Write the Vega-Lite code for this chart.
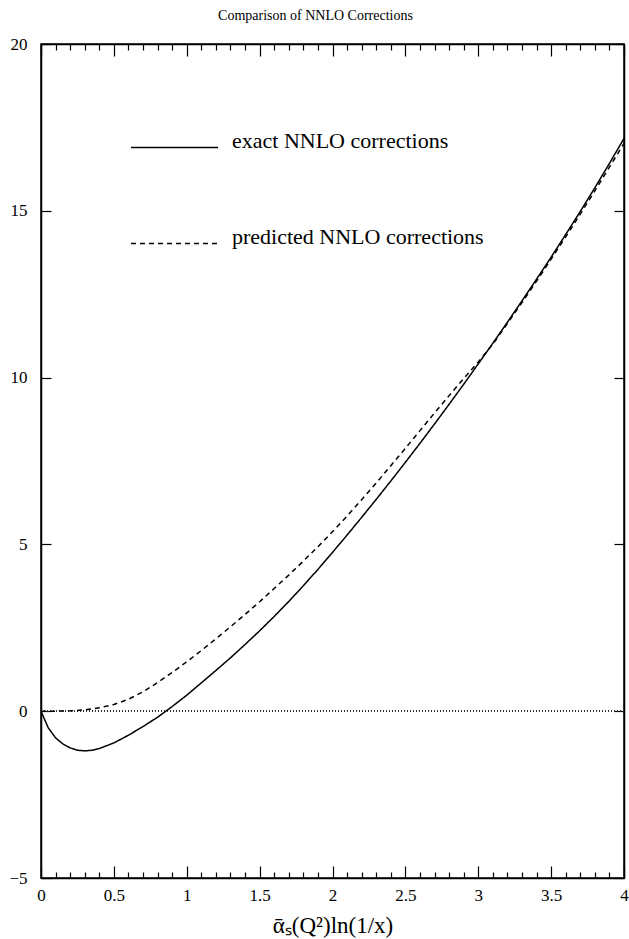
{
  "$schema": "https://vega.github.io/schema/vega-lite/v6.json",
  "width": 583,
  "height": 834,
  "autosize": {"type": "none"},
  "padding": {"left": 41, "top": 44, "right": 5, "bottom": 61},
  "background": "white",
  "config": {
    "view": {"stroke": "black", "strokeWidth": 1.5},
    "font": "Liberation Serif",
    "axis": {"grid": false, "domainColor": "black", "domainWidth": 1.5, "tickColor": "black", "tickWidth": 1.2, "labelFont": "Liberation Serif", "labelColor": "black", "titleFont": "Liberation Serif", "titleColor": "black", "titleFontWeight": "normal"}
  },
  "title": {"text": "Comparison of NNLO Corrections", "font": "Liberation Serif", "fontSize": 14, "fontWeight": "normal", "color": "black", "anchor": "middle", "dx": -17, "offset": 12},
  "datasets": {
    "curves": [
      {"x": 0, "y": 0, "series": "exact NNLO corrections"},
      {"x": 0.05, "y": -0.5, "series": "exact NNLO corrections"},
      {"x": 0.1, "y": -0.8, "series": "exact NNLO corrections"},
      {"x": 0.15, "y": -0.98, "series": "exact NNLO corrections"},
      {"x": 0.2, "y": -1.1, "series": "exact NNLO corrections"},
      {"x": 0.25, "y": -1.17, "series": "exact NNLO corrections"},
      {"x": 0.3, "y": -1.19, "series": "exact NNLO corrections"},
      {"x": 0.35, "y": -1.17, "series": "exact NNLO corrections"},
      {"x": 0.4, "y": -1.12, "series": "exact NNLO corrections"},
      {"x": 0.5, "y": -0.95, "series": "exact NNLO corrections"},
      {"x": 0.6, "y": -0.72, "series": "exact NNLO corrections"},
      {"x": 0.7, "y": -0.46, "series": "exact NNLO corrections"},
      {"x": 0.8, "y": -0.18, "series": "exact NNLO corrections"},
      {"x": 0.9, "y": 0.14, "series": "exact NNLO corrections"},
      {"x": 1.0, "y": 0.48, "series": "exact NNLO corrections"},
      {"x": 1.1, "y": 0.85, "series": "exact NNLO corrections"},
      {"x": 1.2, "y": 1.22, "series": "exact NNLO corrections"},
      {"x": 1.3, "y": 1.6, "series": "exact NNLO corrections"},
      {"x": 1.4, "y": 2.0, "series": "exact NNLO corrections"},
      {"x": 1.5, "y": 2.41, "series": "exact NNLO corrections"},
      {"x": 1.6, "y": 2.84, "series": "exact NNLO corrections"},
      {"x": 1.7, "y": 3.29, "series": "exact NNLO corrections"},
      {"x": 1.8, "y": 3.76, "series": "exact NNLO corrections"},
      {"x": 1.9, "y": 4.25, "series": "exact NNLO corrections"},
      {"x": 2.0, "y": 4.76, "series": "exact NNLO corrections"},
      {"x": 2.1, "y": 5.28, "series": "exact NNLO corrections"},
      {"x": 2.2, "y": 5.81, "series": "exact NNLO corrections"},
      {"x": 2.3, "y": 6.35, "series": "exact NNLO corrections"},
      {"x": 2.4, "y": 6.9, "series": "exact NNLO corrections"},
      {"x": 2.5, "y": 7.46, "series": "exact NNLO corrections"},
      {"x": 2.6, "y": 8.03, "series": "exact NNLO corrections"},
      {"x": 2.7, "y": 8.61, "series": "exact NNLO corrections"},
      {"x": 2.8, "y": 9.2, "series": "exact NNLO corrections"},
      {"x": 2.9, "y": 9.8, "series": "exact NNLO corrections"},
      {"x": 3.0, "y": 10.41, "series": "exact NNLO corrections"},
      {"x": 3.1, "y": 11.03, "series": "exact NNLO corrections"},
      {"x": 3.2, "y": 11.66, "series": "exact NNLO corrections"},
      {"x": 3.3, "y": 12.3, "series": "exact NNLO corrections"},
      {"x": 3.4, "y": 12.95, "series": "exact NNLO corrections"},
      {"x": 3.5, "y": 13.61, "series": "exact NNLO corrections"},
      {"x": 3.6, "y": 14.29, "series": "exact NNLO corrections"},
      {"x": 3.7, "y": 14.98, "series": "exact NNLO corrections"},
      {"x": 3.8, "y": 15.69, "series": "exact NNLO corrections"},
      {"x": 3.9, "y": 16.42, "series": "exact NNLO corrections"},
      {"x": 4.0, "y": 17.17, "series": "exact NNLO corrections"},
      {"x": 0, "y": 0, "series": "predicted NNLO corrections"},
      {"x": 0.1, "y": 0, "series": "predicted NNLO corrections"},
      {"x": 0.2, "y": 0.01, "series": "predicted NNLO corrections"},
      {"x": 0.3, "y": 0.04, "series": "predicted NNLO corrections"},
      {"x": 0.4, "y": 0.1, "series": "predicted NNLO corrections"},
      {"x": 0.5, "y": 0.2, "series": "predicted NNLO corrections"},
      {"x": 0.6, "y": 0.36, "series": "predicted NNLO corrections"},
      {"x": 0.7, "y": 0.58, "series": "predicted NNLO corrections"},
      {"x": 0.8, "y": 0.86, "series": "predicted NNLO corrections"},
      {"x": 0.9, "y": 1.16, "series": "predicted NNLO corrections"},
      {"x": 1.0, "y": 1.48, "series": "predicted NNLO corrections"},
      {"x": 1.1, "y": 1.82, "series": "predicted NNLO corrections"},
      {"x": 1.2, "y": 2.17, "series": "predicted NNLO corrections"},
      {"x": 1.3, "y": 2.53, "series": "predicted NNLO corrections"},
      {"x": 1.4, "y": 2.9, "series": "predicted NNLO corrections"},
      {"x": 1.5, "y": 3.28, "series": "predicted NNLO corrections"},
      {"x": 1.6, "y": 3.68, "series": "predicted NNLO corrections"},
      {"x": 1.7, "y": 4.08, "series": "predicted NNLO corrections"},
      {"x": 1.8, "y": 4.5, "series": "predicted NNLO corrections"},
      {"x": 1.9, "y": 4.93, "series": "predicted NNLO corrections"},
      {"x": 2.0, "y": 5.38, "series": "predicted NNLO corrections"},
      {"x": 2.1, "y": 5.85, "series": "predicted NNLO corrections"},
      {"x": 2.2, "y": 6.34, "series": "predicted NNLO corrections"},
      {"x": 2.3, "y": 6.84, "series": "predicted NNLO corrections"},
      {"x": 2.4, "y": 7.36, "series": "predicted NNLO corrections"},
      {"x": 2.5, "y": 7.88, "series": "predicted NNLO corrections"},
      {"x": 2.6, "y": 8.41, "series": "predicted NNLO corrections"},
      {"x": 2.7, "y": 8.94, "series": "predicted NNLO corrections"},
      {"x": 2.8, "y": 9.46, "series": "predicted NNLO corrections"},
      {"x": 2.9, "y": 9.97, "series": "predicted NNLO corrections"},
      {"x": 3.0, "y": 10.47, "series": "predicted NNLO corrections"},
      {"x": 3.1, "y": 11.0, "series": "predicted NNLO corrections"},
      {"x": 3.2, "y": 11.62, "series": "predicted NNLO corrections"},
      {"x": 3.3, "y": 12.25, "series": "predicted NNLO corrections"},
      {"x": 3.4, "y": 12.89, "series": "predicted NNLO corrections"},
      {"x": 3.5, "y": 13.55, "series": "predicted NNLO corrections"},
      {"x": 3.6, "y": 14.22, "series": "predicted NNLO corrections"},
      {"x": 3.7, "y": 14.9, "series": "predicted NNLO corrections"},
      {"x": 3.8, "y": 15.6, "series": "predicted NNLO corrections"},
      {"x": 3.9, "y": 16.31, "series": "predicted NNLO corrections"},
      {"x": 4.0, "y": 17.02, "series": "predicted NNLO corrections"}
    ]
  },
  "data": {"name": "curves"},
  "resolve": {"axis": {"x": "independent", "y": "independent"}},
  "layer": [
    {
      "mark": {"type": "rule", "color": "#333", "strokeWidth": 1, "strokeDash": [1, 2]},
      "encoding": {"y": {"datum": 0, "type": "quantitative", "scale": {"domain": [-5, 20]}, "axis": null}}
    },
    {
      "mark": {"type": "line", "color": "black", "strokeWidth": 1.5},
      "encoding": {
        "x": {"field": "x", "type": "quantitative", "scale": {"domain": [0, 4], "nice": false, "zero": false},
          "axis": {"orient": "bottom", "values": [0, 0.5, 1, 1.5, 2, 2.5, 3, 3.5, 4], "tickSize": -12, "labelFontSize": 17, "labelPadding": 21, "labelFlush": false, "labelOverlap": false, "format": "~g", "title": "ᾱₛ(Q²)ln(1/x)", "titleFontSize": 23, "titlePadding": 11}},
        "y": {"field": "y", "type": "quantitative", "scale": {"domain": [-5, 20], "nice": false, "zero": false},
          "axis": {"orient": "left", "values": [-5, 0, 5, 10, 15, 20], "tickSize": -10, "labelFontSize": 17, "labelPadding": 24, "title": null}},
        "strokeDash": {"field": "series", "type": "nominal",
          "scale": {"domain": ["exact NNLO corrections", "predicted NNLO corrections"], "range": [[1, 0], [5, 4]]},
          "legend": {"orient": "none", "legendX": 89, "legendY": 59, "title": null, "symbolType": "stroke", "symbolSize": 7569, "symbolStrokeColor": "black", "symbolStrokeWidth": 1.5, "labelFont": "Liberation Serif", "labelFontSize": 22, "labelColor": "black", "labelLimit": 400, "labelBaseline": "alphabetic", "labelOffset": 13, "rowPadding": 47}}
      }
    },
    {
      "mark": {"type": "line", "opacity": 0},
      "encoding": {
        "x": {"field": "x", "type": "quantitative", "axis": {"orient": "top", "values": [0, 0.5, 1, 1.5, 2, 2.5, 3, 3.5, 4], "tickSize": -12, "labels": false, "title": null}},
        "y": {"field": "y", "type": "quantitative", "axis": {"orient": "right", "values": [-5, 0, 5, 10, 15, 20], "tickSize": -10, "labels": false, "title": null}}
      }
    },
    {
      "mark": {"type": "line", "opacity": 0},
      "encoding": {
        "x": {"field": "x", "type": "quantitative", "axis": {"orient": "bottom", "values": [0.1, 0.2, 0.3, 0.4, 0.6, 0.7, 0.8, 0.9, 1.1, 1.2, 1.3, 1.4, 1.6, 1.7, 1.8, 1.9, 2.1, 2.2, 2.3, 2.4, 2.6, 2.7, 2.8, 2.9, 3.1, 3.2, 3.3, 3.4, 3.6, 3.7, 3.8, 3.9], "tickSize": -6, "labels": false, "domain": false, "title": null}},
        "y": {"field": "y", "type": "quantitative", "axis": null}
      }
    },
    {
      "mark": {"type": "line", "opacity": 0},
      "encoding": {
        "x": {"field": "x", "type": "quantitative", "axis": {"orient": "top", "values": [0.1, 0.2, 0.3, 0.4, 0.6, 0.7, 0.8, 0.9, 1.1, 1.2, 1.3, 1.4, 1.6, 1.7, 1.8, 1.9, 2.1, 2.2, 2.3, 2.4, 2.6, 2.7, 2.8, 2.9, 3.1, 3.2, 3.3, 3.4, 3.6, 3.7, 3.8, 3.9], "tickSize": -6, "labels": false, "domain": false, "title": null}},
        "y": {"field": "y", "type": "quantitative", "axis": null}
      }
    }
  ]
}
